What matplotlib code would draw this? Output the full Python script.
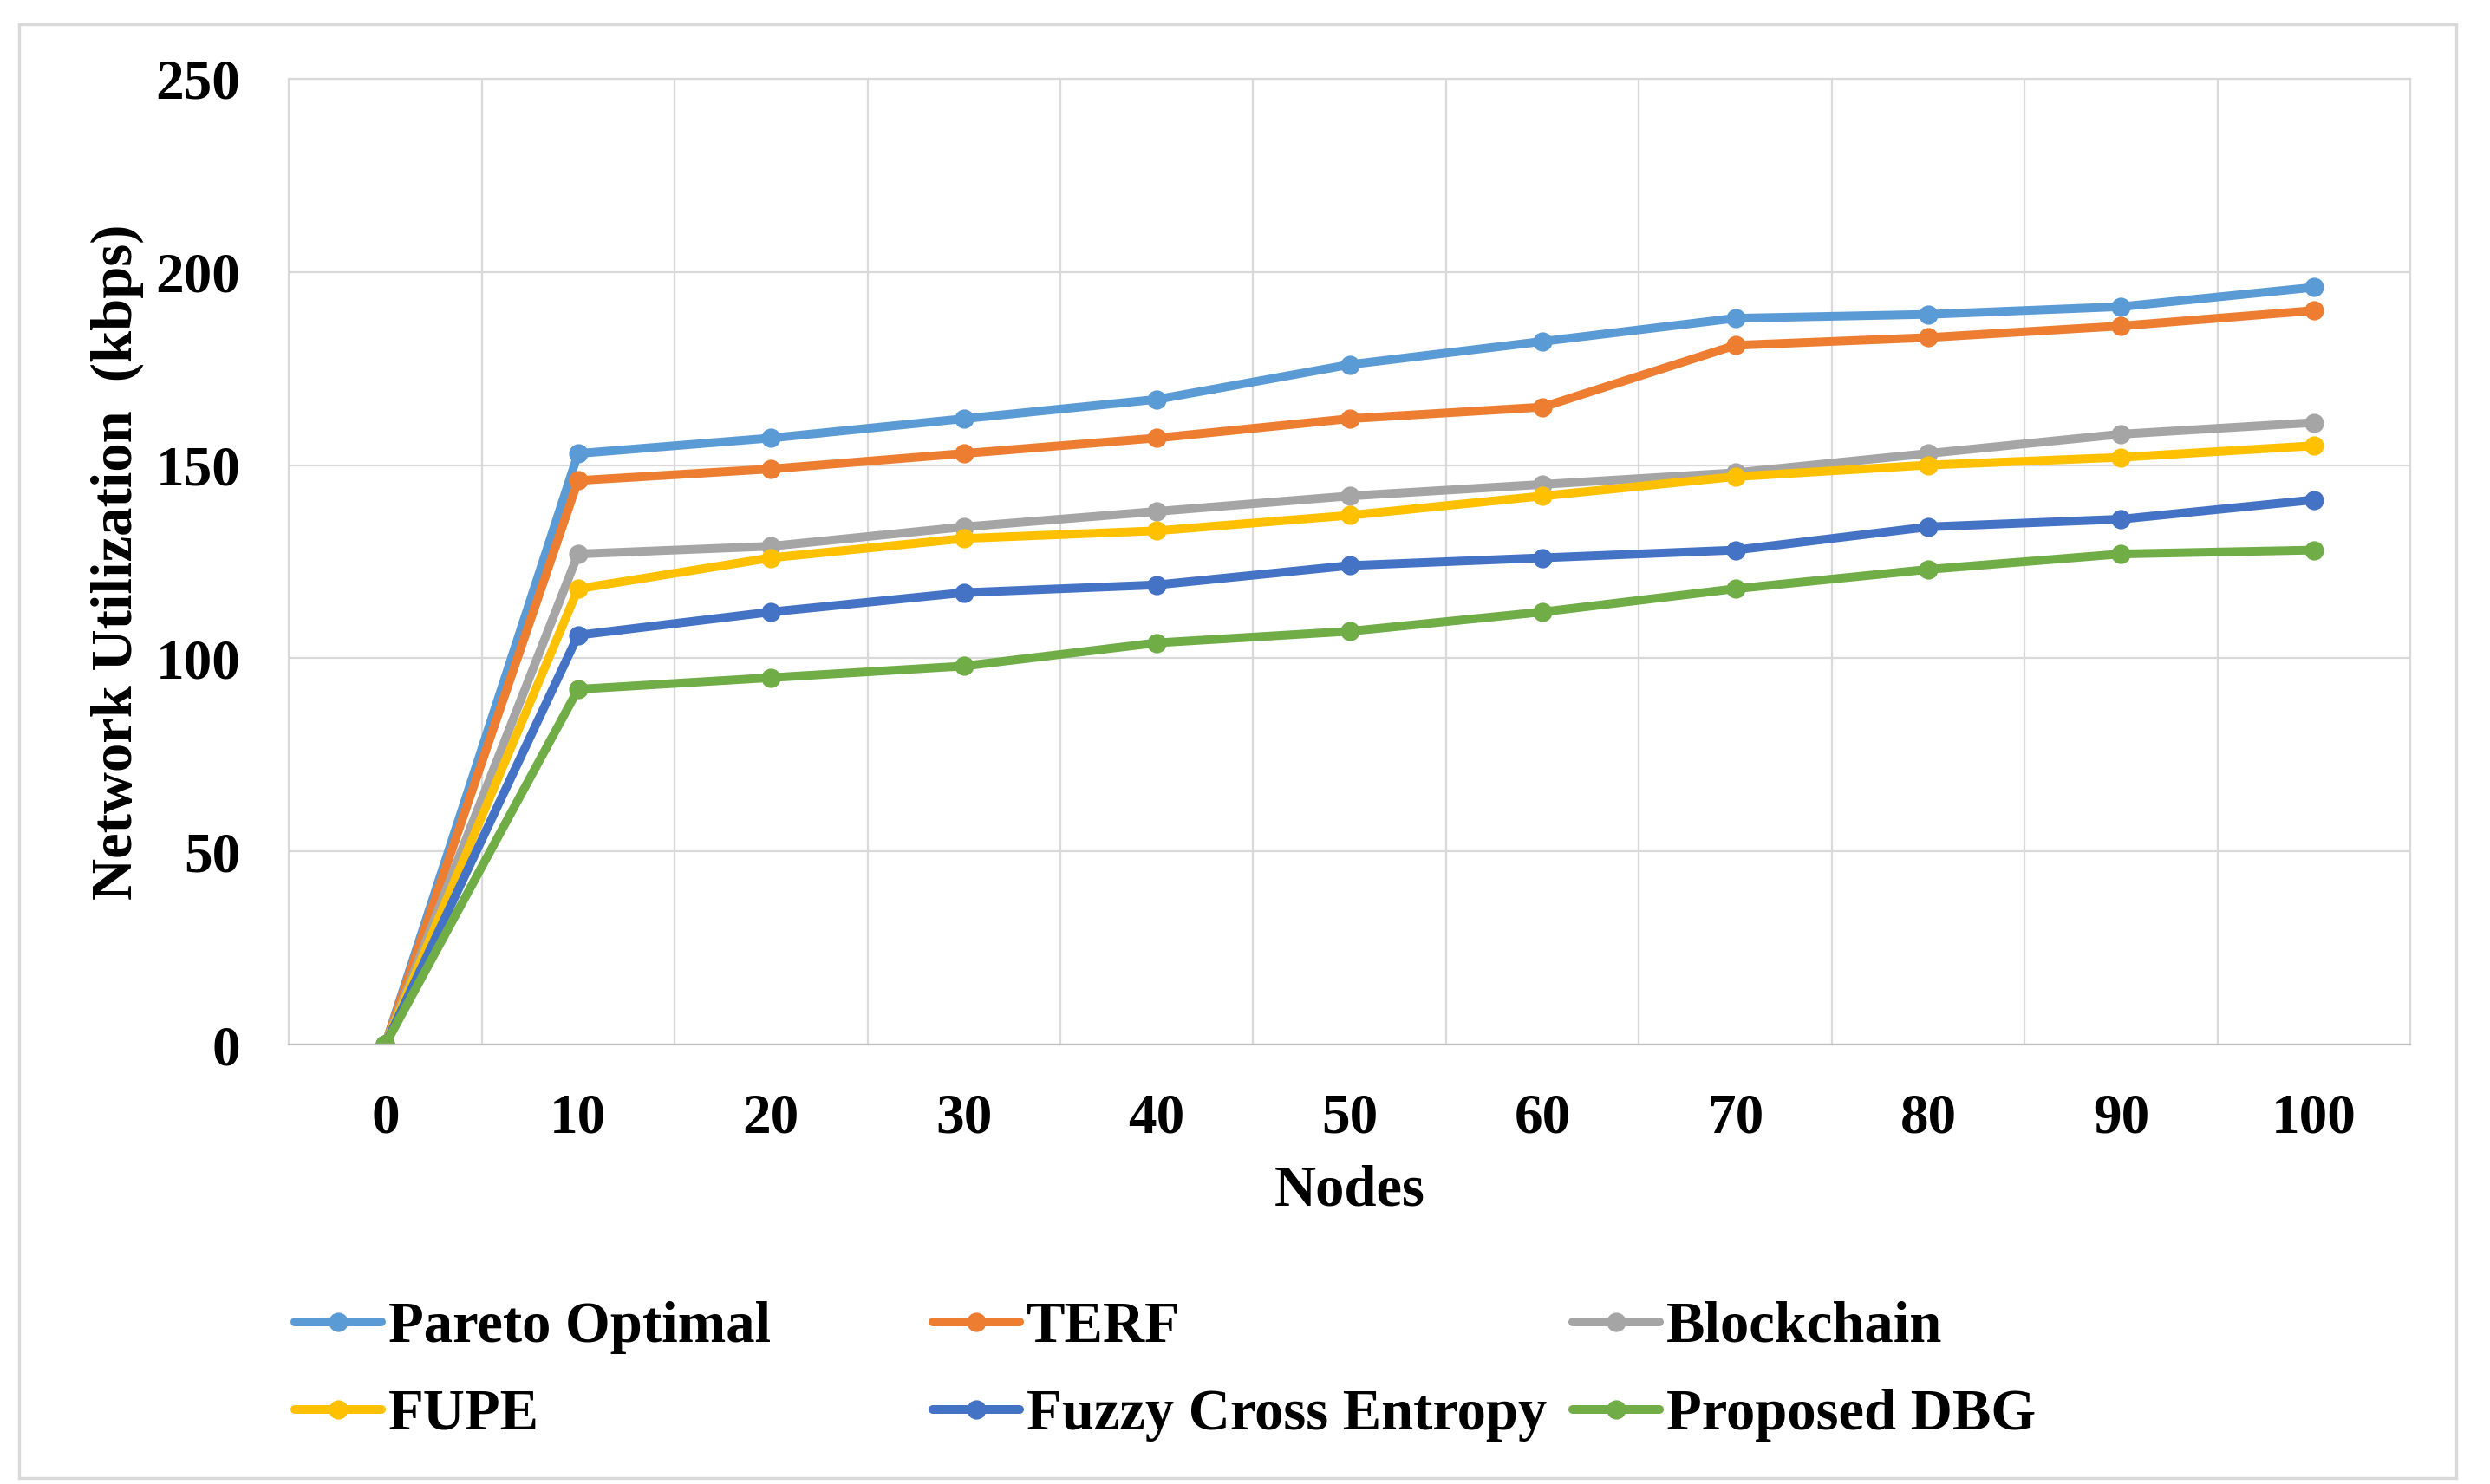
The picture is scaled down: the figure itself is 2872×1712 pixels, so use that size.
import matplotlib
matplotlib.use('Agg')
import matplotlib.pyplot as plt
from matplotlib.patches import Rectangle
import numpy as np

plt.rcParams['font.family'] = ['Liberation Serif', 'DejaVu Serif']
plt.rcParams['font.weight'] = 'bold'

nodes = ['0', '10', '20', '30', '40', '50', '60', '70', '80', '90', '100']
pareto = [0, 153, 157, 162, 167, 176, 182, 188, 189, 191, 196]
terf = [0, 146, 149, 153, 157, 162, 165, 181, 183, 186, 190]
blockchain = [0, 127, 129, 134, 138, 142, 145, 148, 153, 158, 161]
fupe = [0, 118, 126, 131, 133, 137, 142, 147, 150, 152, 155]
fuzzy = [0, 106, 112, 117, 119, 124, 126, 128, 134, 136, 141]
dbg = [0, 92, 95, 98, 104, 107, 112, 118, 123, 127, 128]

names = ['Pareto Optimal', 'TERF', 'Blockchain', 'FUPE', 'Fuzzy Cross Entropy', 'Proposed DBG']
series = [pareto, terf, blockchain, fupe, fuzzy, dbg]
colors = ['#5B9BD5', '#ED7D31', '#A5A5A5', '#FFC000', '#4472C4', '#70AD47']

fig = plt.figure(figsize=(14.36, 8.56), dpi=200)
# outer chart border
fig.patches.append(Rectangle((22 / 2872, 1 - 1705 / 1712), (2833 - 22) / 2872, (1705 - 28) / 1712,
                             transform=fig.transFigure, fill=False, edgecolor='#D9D9D9', lw=1.2))

ax = fig.add_axes([0.116, 0.296, 0.852, 0.651])
x = np.arange(len(nodes))
lines = []
for name, vals, c in zip(names, series, colors):
    ln, = ax.plot(x, vals, color=c, lw=3.6, marker='o', markersize=7, label=name,
                  solid_capstyle='round')
    lines.append(ln)

ax.set_xlim(-0.5, len(nodes) - 0.5)
ax.set_ylim(0, 250)
ax.set_yticks(np.arange(0, 251, 50))
ax.set_xticks(x)
ax.set_xticklabels(nodes)
ax.set_xticks(np.arange(0.5, len(nodes) - 1, 1), minor=True)
ax.grid(axis='y', which='major', color='#D9D9D9', lw=0.8)
ax.grid(axis='x', which='minor', color='#D9D9D9', lw=0.8)
ax.set_axisbelow(True)
for s in ax.spines.values():
    s.set_color('#D9D9D9')
    s.set_linewidth(0.8)
ax.spines['bottom'].set_color('#BFBFBF')
ax.tick_params(which='both', length=0)
ax.tick_params(axis='y', labelsize=23.5, pad=20)
ax.tick_params(axis='x', labelsize=23.5, pad=20)

ax.set_xlabel('Nodes', fontsize=24, fontweight='bold', labelpad=8)
ax.set_ylabel('Network Utilization  (kbps)', fontsize=24, fontweight='bold', labelpad=5)

# legend laid out in three columns like the original
col_x = [340 / 2872, 1076 / 2872, 1814 / 2872]
order = [[0, 3], [1, 4], [2, 5]]
for cx, idx in zip(col_x, order):
    leg = fig.legend([lines[i] for i in idx], [names[i] for i in idx], loc='center left',
                     bbox_to_anchor=(cx, 0.076), frameon=False, fontsize=24,
                     handlelength=1.5, handletextpad=0.12, borderpad=0, borderaxespad=0,
                     labelspacing=0.6)

fig.savefig('out.png', dpi=200)
